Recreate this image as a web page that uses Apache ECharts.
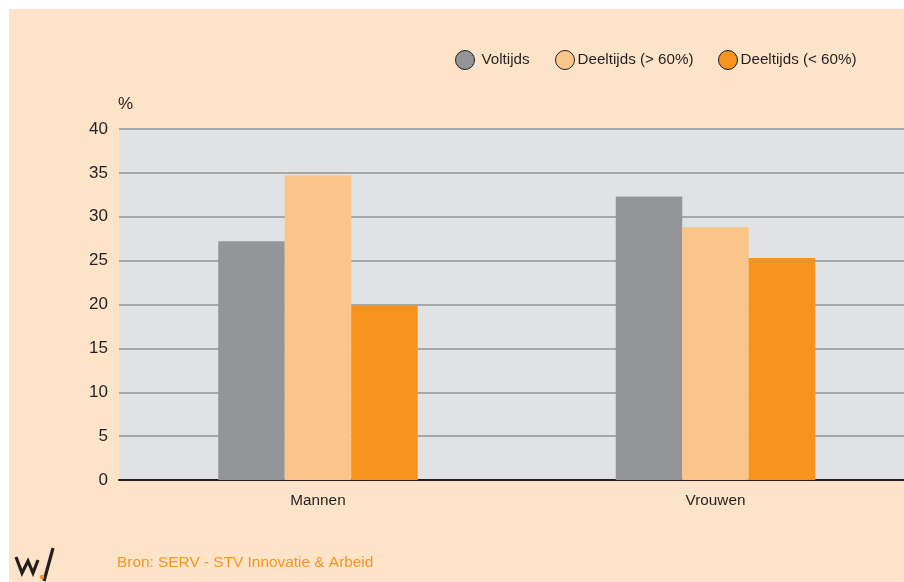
<!DOCTYPE html>
<html><head><meta charset="utf-8">
<script src="https://cdn.jsdelivr.net/npm/echarts@6/dist/echarts.min.js"></script>
<style>html,body{margin:0;padding:0;background:#fff}#c{width:904px;height:582px}</style>
</head><body><div id="c"></div>
<script>
const categories = ['Mannen', 'Vrouwen'];
const seriesNames = ['Voltijds', 'Deeltijds (> 60%)', 'Deeltijds (< 60%)'];
const voltijds = [27.2, 32.3];
const deeltijdsHoog = [34.7, 28.8];
const deeltijdsLaag = [19.9, 25.3];
const yTicks = [0, 5, 10, 15, 20, 25, 30, 35, 40];
const colors = ['#939598', '#fac589', '#f6921e'];
const values = [voltijds, deeltijdsHoog, deeltijdsLaag];

const chart = echarts.init(document.getElementById('c'), null, {renderer: 'canvas'});
const font = '"Liberation Sans", Arial, sans-serif';
const legendPos = [455, 555, 718];
const txt = '#231f20';
const option = {
  backgroundColor: '#ffffff',
  animation: false,
  textStyle: {fontFamily: font},
  graphic: [
    {type: 'rect', z: -10, shape: {x: 9, y: 9, width: 900, height: 580}, style: {fill: '#fde4c9'}},
    {type: 'text', left: 117, top: 555, style: {text: 'Bron: SERV - STV Innovatie & Arbeid', fill: '#f7941d', font: '15.4px ' + font}},
    {type: 'polyline', shape: {points: [[16, 557], [22, 573], [28, 561], [33, 573], [38, 560]]}, style: {stroke: txt, lineWidth: 3.2, fill: null, lineJoin: 'miter'}},
    {type: 'polyline', shape: {points: [[44, 581], [53, 548]]}, style: {stroke: txt, lineWidth: 3.2, fill: null}},
    {type: 'circle', shape: {cx: 42, cy: 577, r: 2.2}, style: {fill: '#f7941d'}}
  ],
  legend: seriesNames.map((n, i) => ({
    data: [n], left: legendPos[i], top: 50, icon: 'circle', itemWidth: 19, itemHeight: 19,
    itemGap: 0, padding: 0,
    itemStyle: {borderColor: txt, borderWidth: 1},
    textStyle: {fontSize: 15.2, color: txt, fontFamily: font, padding: [0, 0, 0, i === 0 ? 2 : -2]}
  })),
  grid: [
    {left: 119, top: 129, right: 0, height: 351, show: true, backgroundColor: '#e1e2e4', borderWidth: 0},
    {left: 318, top: 129, width: 397.5, height: 351, show: false}
  ],
  xAxis: [
    {type: 'category', gridIndex: 0, data: categories,
      axisLine: {lineStyle: {color: txt, width: 2}}, axisTick: {show: false}, axisLabel: {show: false}},
    {type: 'category', gridIndex: 1, data: categories, boundaryGap: false,
      axisLine: {show: false}, axisTick: {show: false}, splitLine: {show: false},
      axisLabel: {fontSize: 15.3, color: txt, margin: 13, fontFamily: font}}
  ],
  yAxis: [
    {type: 'value', gridIndex: 0, min: 0, max: 40, interval: 5,
      name: '%', nameLocation: 'end', nameGap: 16,
      nameTextStyle: {fontSize: 17, color: txt, align: 'left', padding: [0, 0, 0, -1], fontFamily: font},
      axisLine: {show: false}, axisTick: {show: false},
      axisLabel: {fontSize: 17, color: txt, margin: 11, fontFamily: font,
        formatter: v => yTicks.includes(v) ? String(v) : ''},
      splitLine: {lineStyle: {color: '#a5a7aa', width: 2}}},
    {type: 'value', gridIndex: 1, min: 0, max: 40, interval: 5, show: false, splitLine: {show: false}}
  ],
  series: seriesNames.map((n, i) => ({
    name: n, type: 'bar', xAxisIndex: 1, yAxisIndex: 1, data: values[i], barWidth: 66.5, barGap: '0%',
    itemStyle: {color: colors[i]}, z: 3
  }))
};
chart.setOption(option);
</script>
</body></html>
